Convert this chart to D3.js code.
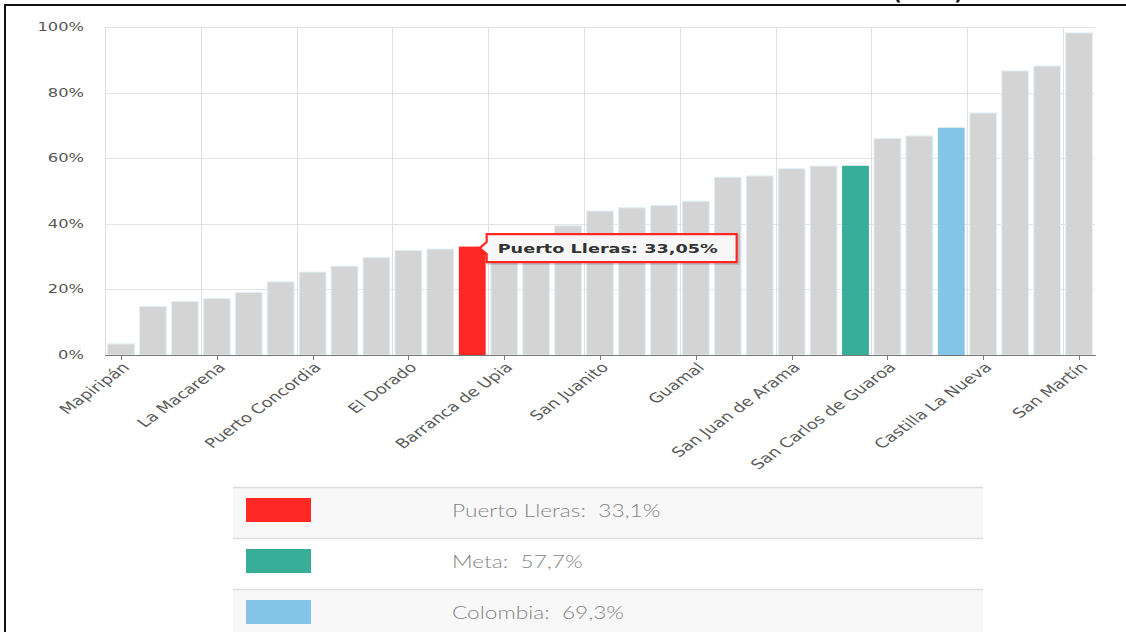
<!DOCTYPE html>
<html>
<head>
<meta charset="utf-8">
<script src="https://cdn.jsdelivr.net/npm/d3@7"></script>
<style>
  html, body { margin: 0; padding: 0; background: #fff; }
  svg { display: block; }
</style>
</head>
<body>
<svg id="chart" width="1126" height="632"></svg>
<script>
// ---------- DATA ----------
const categories = [
  "Mapiripán", "Puerto Gaitán", "Uribe", "La Macarena", "Mesetas", "Puerto Rico",
  "Puerto Concordia", "Vista Hermosa", "Lejanías", "El Dorado", "El Castillo",
  "Puerto Lleras", "Barranca de Upia", "Fuente de Oro", "Puerto López", "San Juanito",
  "Cubarral", "El Calvario", "Guamal", "Cabuyaro", "Granada", "San Juan de Arama",
  "Acacías", "Meta", "San Carlos de Guaroa", "Cumaral", "Colombia",
  "Castilla La Nueva", "Restrepo", "Villavicencio", "San Martín"
];
const values = [
  3.4, 14.8, 16.3, 17.2, 19.1, 22.3,
  25.3, 27.1, 29.7, 31.9, 32.3,
  33.05, 35.0, 36.6, 39.4, 43.9,
  44.9, 45.6, 46.9, 54.2, 54.6, 56.8,
  57.6, 57.7, 66.0, 66.8, 69.3,
  73.8, 86.6, 88.1, 98.2
];
const yTicks = [0, 20, 40, 60, 80, 100];
const labelEvery = 3;
const highlightNames = ["Puerto Lleras", "Meta", "Colombia"];
const highlightColors = ["#ff2824", "#37ae97", "#84c4e6"];
const legendValues = [33.1, 57.7, 69.3];
const tooltipName = "Puerto Lleras";
const titleFragment = "(2018)";

// ---------- LAYOUT ----------
const svg = d3.select("#chart");
const L = 105, R = 1095, T = 27, B = 355;
const SX = 1.36; // horizontal text stretch seen in the reference

const x = d3.scaleBand().domain(categories).range([L, R]).paddingInner(0.16).paddingOuter(0.08);
const y = d3.scaleLinear().domain([0, 100]).range([B, T]);
const step = x.step();
const pctFmt = d => d + "%";
const commaFmt = (v, n) => v.toFixed(n).replace(".", ",") + "%";

// frame
svg.append("line").attr("x1", 4).attr("x2", 1126).attr("y1", 5).attr("y2", 5)
  .attr("stroke", "#111").attr("stroke-width", 2);
svg.append("line").attr("x1", 5).attr("x2", 5).attr("y1", 4).attr("y2", 632)
  .attr("stroke", "#111").attr("stroke-width", 2);
// title fragment, cut by the top edge as in the reference
svg.append("text").attr("x", 893).attr("y", 0).attr("font-family", "DejaVu Sans")
  .attr("font-weight", "bold").attr("font-size", 19).attr("fill", "#111")
  .attr("textLength", 70).attr("lengthAdjust", "spacingAndGlyphs").text(titleFragment);

// horizontal grid
svg.append("g").selectAll("line").data(yTicks).join("line")
  .attr("x1", L).attr("x2", R)
  .attr("y1", d => Math.round(y(d)) + 0.5).attr("y2", d => Math.round(y(d)) + 0.5)
  .attr("stroke", "#e4e4e4").attr("stroke-width", 1);

// vertical grid (category boundaries every labelEvery)
const labeled = categories.filter((c, i) => i % labelEvery === 0);
svg.append("g").selectAll("line").data(labeled).join("line")
  .attr("x1", d => Math.round(x(d) - x.paddingInner() * step / 2) + 0.5)
  .attr("x2", d => Math.round(x(d) - x.paddingInner() * step / 2) + 0.5)
  .attr("y1", T).attr("y2", B)
  .attr("stroke", "#e0e0e0").attr("stroke-width", 1);

// y labels
svg.append("g").selectAll("text").data(yTicks).join("text")
  .attr("transform", d => `translate(84,${y(d) + 4}) scale(${SX},1)`)
  .attr("text-anchor", "end")
  .attr("font-family", "DejaVu Sans").attr("font-size", 12).attr("fill", "#555")
  .text(pctFmt);

// bars
const colorOf = name => {
  const k = highlightNames.indexOf(name);
  return k >= 0 ? highlightColors[k] : "#d4d4d4";
};
svg.append("g").selectAll("rect").data(categories).join("rect")
  .attr("x", d => x(d)).attr("width", x.bandwidth())
  .attr("y", (d, i) => y(values[i])).attr("height", (d, i) => B - y(values[i]))
  .attr("fill", colorOf)
  .attr("stroke", d => highlightNames.includes(d) ? "none" : "#e2eff5")
  .attr("stroke-width", 1);

// x axis line
svg.append("line").attr("x1", L).attr("x2", R + 1).attr("y1", B + 0.5).attr("y2", B + 0.5)
  .attr("stroke", "#777").attr("stroke-width", 1);
// ticks
svg.append("g").selectAll("line").data(labeled).join("line")
  .attr("x1", d => Math.round(x(d) + x.bandwidth() / 2) + 0.5)
  .attr("x2", d => Math.round(x(d) + x.bandwidth() / 2) + 0.5)
  .attr("y1", B).attr("y2", B + 5)
  .attr("stroke", "#777").attr("stroke-width", 1);
// x labels
svg.append("g").selectAll("text").data(labeled).join("text")
  .attr("transform", d => `translate(${x(d) + x.bandwidth() / 2 + 5},${B + 10}) scale(${SX},1) rotate(-45)`)
  .attr("text-anchor", "end")
  .attr("dy", "0.35em")
  .attr("font-family", "DejaVu Sans").attr("font-size", 13.3).attr("fill", "#5a5a5a")
  .text(d => d);

// tooltip
const ti = categories.indexOf(tooltipName);
const tx = x(tooltipName) + x.bandwidth() + 1;
const tyc = y(values[ti]) + 1.5;
const tw = 250, th = 28, ar = 6;
const tip = svg.append("g");
const tipPath = `M${tx},${tyc - th / 2} H${tx + tw} V${tyc + th / 2} H${tx} V${tyc + ar} L${tx - ar - 1},${tyc} L${tx},${tyc - ar} Z`;
tip.append("path").attr("d", tipPath).attr("transform", "translate(1.5,1.5)")
  .attr("fill", "none").attr("stroke", "rgba(0,0,0,0.12)").attr("stroke-width", 3);
tip.append("path").attr("d", tipPath)
  .attr("fill", "rgba(248,248,248,0.97)").attr("stroke", "#ff2824").attr("stroke-width", 2.2);
tip.append("text")
  .attr("transform", `translate(${tx + 11},${tyc + 5}) scale(${SX},1)`)
  .attr("font-family", "DejaVu Sans").attr("font-weight", "bold").attr("font-size", 13)
  .attr("fill", "#333")
  .text(`${tooltipName}: ${commaFmt(values[ti], 2)}`);

// legend table
const lg = svg.append("g");
const rowTop = 487, rowH = 51, tabL = 233, tabR = 983;
const rows = lg.selectAll("g").data(highlightNames).join("g")
  .attr("transform", (d, i) => `translate(0,${rowTop + i * rowH})`);
rows.append("rect").attr("x", tabL).attr("y", 0).attr("width", tabR - tabL).attr("height", rowH)
  .attr("fill", (d, i) => i % 2 === 0 ? "#f8f8f8" : "#ffffff");
rows.append("line").attr("x1", tabL).attr("x2", tabR).attr("y1", 0.5).attr("y2", 0.5)
  .attr("stroke", "#dddddd").attr("stroke-width", 1.5);
rows.append("rect").attr("x", 246).attr("y", 11).attr("width", 65).attr("height", 24)
  .attr("fill", (d, i) => highlightColors[i]);
rows.append("text")
  .attr("transform", `translate(452,30) scale(1.26,1)`)
  .attr("font-family", "Lato").attr("font-weight", 300).attr("font-size", 18)
  .attr("fill", "#858585")
  .attr("xml:space", "preserve")
  .text((d, i) => `${d}:  ${commaFmt(legendValues[i], 1)}`);
</script>
</body>
</html>
